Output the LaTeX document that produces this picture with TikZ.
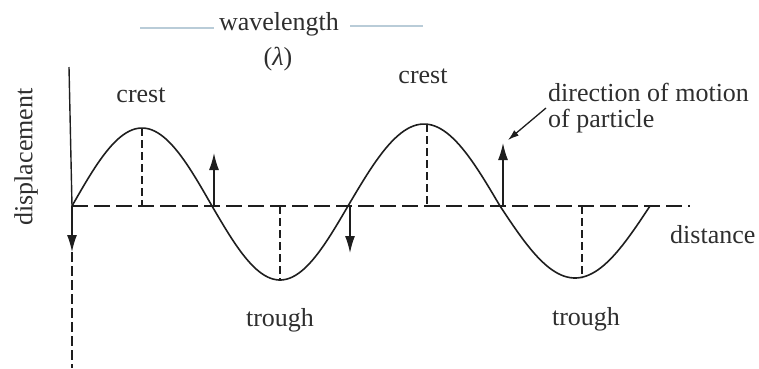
\documentclass[tikz,border=0pt]{standalone}
\usepackage{fontspec}
\setmainfont{Liberation Serif}
\usetikzlibrary{arrows.meta}
\definecolor{ink}{HTML}{1E1E1E}
\definecolor{txt}{HTML}{2E2E2E}
\definecolor{wl}{HTML}{B9CCD8}
\begin{document}
\begin{tikzpicture}[x=1pt,y=-1pt,
  wave/.style={draw=ink,line width=1.6pt},
  axisdash/.style={draw=ink,line width=1.4pt,dash pattern=on 16pt off 6pt},
  vdash/.style={draw=ink,line width=1.4pt,dash pattern=on 8pt off 4pt},
  motion/.style={draw=ink,line width=1.4pt,-{Latex[length=17pt,width=10pt]}},
  pointer/.style={draw=ink,line width=1.3pt,-{Latex[length=11pt,width=7pt]}},
  lbl/.style={text=txt,font=\fontsize{26}{30}\selectfont,inner sep=0pt},
  wlline/.style={draw=wl,line width=1.6pt}]
\useasboundingbox (0,0) rectangle (759,368);
% coordinates
\coordinate (top) at (69,67);
\coordinate (o) at (72,206);
\coordinate (downtip) at (72,252);
\coordinate (bot) at (72,368);
\coordinate (xend) at (690,206);
\coordinate (c1) at (142,128);
\coordinate (c1b) at (142,206);
\coordinate (t1) at (280,280);
\coordinate (t1b) at (280,206);
\coordinate (c2) at (427,124);
\coordinate (c2b) at (427,206);
\coordinate (t2) at (582,278);
\coordinate (t2b) at (582,206);
\coordinate (u1) at (214,153);
\coordinate (u1b) at (214,206);
\coordinate (d2) at (350,253);
\coordinate (d2b) at (350,206);
\coordinate (u2) at (503,143);
\coordinate (u2b) at (503,206);
\coordinate (pstart) at (546,108);
\coordinate (pend) at (508,140);
% axes
\draw[draw=ink,line width=1.4pt] (top) -- (o);
\draw[motion] (o) -- (downtip);
\draw[draw=ink,line width=1.2pt,dash pattern=on 10pt off 4pt] (downtip) -- (bot);
\draw[axisdash] (o) -- (xend);
% wave
\draw[wave] plot[domain=0:180,samples=50] ({72+\x/180*140},{206-78*sin(\x)})
  -- plot[domain=0:180,samples=50] ({212+\x/180*136},{206+74*sin(\x)})
  -- plot[domain=0:180,samples=50] ({348+\x/180*152},{206-82*sin(\x)})
  -- plot[domain=0:180,samples=50] ({500+\x/180*150},{206+72*sin(\x)});
% dashed verticals
\draw[vdash] (c1) -- (c1b);
\draw[vdash] (t1b) -- (t1);
\draw[vdash] (c2) -- (c2b);
\draw[vdash] (t2b) -- (t2);
% motion arrows
\draw[motion] (u1b) -- (u1);
\draw[motion] (d2b) -- (d2);
\draw[motion] (u2b) -- (u2);
\draw[pointer] (pstart) -- (pend);
% labels
\node[lbl,anchor=base] (wavelength) at (279,30) {wavelength};
\node[lbl,anchor=base] (lambda) at (278,65) {(\textit{λ})};
\coordinate (wl1a) at (140,28);
\coordinate (wl1b) at (214,28);
\coordinate (wl2a) at (350,26);
\coordinate (wl2b) at (423,26);
\draw[wlline] (wl1a) -- (wl1b);
\draw[wlline] (wl2a) -- (wl2b);
\node[lbl,anchor=base] (crest1) at (141,102) {crest};
\node[lbl,anchor=base] (crest2) at (423,83) {crest};
\node[lbl,anchor=base] (trough1) at (280,326) {trough};
\node[lbl,anchor=base] (trough2) at (586,325) {trough};
\node[lbl,anchor=base west] (dir1) at (548,101) {direction of motion};
\node[lbl,anchor=base west] (dir2) at (548,127) {of particle};
\node[lbl,anchor=base west] (dist) at (670,243) {distance};
\node[lbl,rotate=90] (disp) at (26,157) {displacement};
\end{tikzpicture}
\end{document}
